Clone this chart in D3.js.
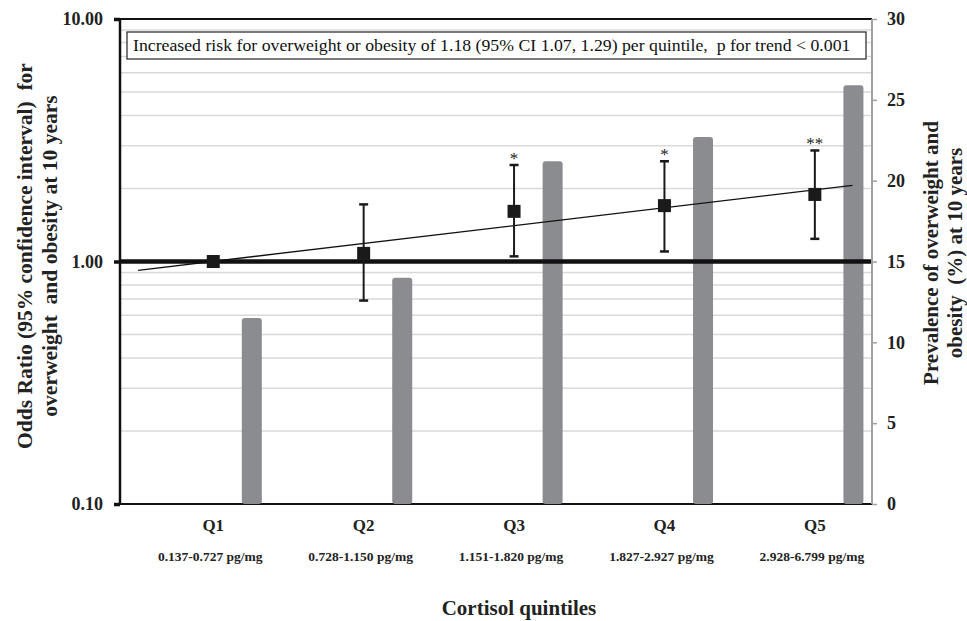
<!DOCTYPE html>
<html>
<head>
<meta charset="utf-8">
<script src="https://cdn.jsdelivr.net/npm/d3@7"></script>
<style>
  body { margin: 0; background: #fff; }
  text { font-family: "Liberation Serif", "Times New Roman", serif; white-space: pre; }
</style>
</head>
<body>
<div id="chart"></div>
<script>
// Chart values
const quintiles = ["Q1", "Q2", "Q3", "Q4", "Q5"];
const cortisolRanges = ["0.137-0.727 pg/mg", "0.728-1.150 pg/mg", "1.151-1.820 pg/mg", "1.827-2.927 pg/mg", "2.928-6.799 pg/mg"];
const oddsRatio = [1.00, 1.08, 1.61, 1.70, 1.89];
const ciLower = [null, 0.69, 1.05, 1.10, 1.24];
const ciUpper = [null, 1.72, 2.50, 2.59, 2.87];
const significance = ["", "", "*", "*", "**"];
const prevalence = [11.5, 14.0, 21.2, 22.7, 25.9];
const trendIndex = [-0.5, 4.25];
const trendOR = [0.92, 2.06];
const leftTicks = [0.1, 1, 10];
const rightTicks = [0, 5, 10, 15, 20, 25, 30];
const minorGrid = [0.2, 0.3, 0.4, 0.5, 0.6, 0.7, 0.8, 0.9, 2, 3, 4, 5, 6, 7, 8, 9];
const note = "Increased risk for overweight or obesity of 1.18 (95% CI 1.07, 1.29) per quintile,  p for trend < 0.001";

// Set up margins and container
const margin = { top: 19, right: 95, bottom: 117, left: 120 };
const width = 967 - margin.left - margin.right;
const height = 621 - margin.top - margin.bottom;

const svg = d3.select("#chart")
    .append("svg")
    .attr("width", 967)
    .attr("height", 621)
    .append("g")
    .attr("transform", `translate(${margin.left},${margin.top})`);

// Scales
const xScale = d3.scaleBand().domain(quintiles).range([0, width]).padding(0);
const bw = xScale.bandwidth();
const pointX = q => xScale(q) + bw * 0.62;
const barX = q => xScale(q) + bw * 0.81;
const xIdx = d3.scaleLinear().domain([0, 4]).range([pointX("Q1"), pointX("Q5")]);
const yLeft = d3.scaleLog().domain([0.1, 10]).range([height, 0]);
const yRight = d3.scaleLinear().domain([0, 30]).range([height, 0]);

// Gridlines (log minor)
svg.selectAll(".grid")
    .data(minorGrid)
    .enter().append("line")
    .attr("x1", 0).attr("x2", width)
    .attr("y1", d => yLeft(d)).attr("y2", d => yLeft(d))
    .attr("stroke", "#d9d9d9")
    .attr("stroke-width", 1.5);

// Bottom and top frame lines
svg.append("line").attr("x1", 0).attr("x2", width).attr("y1", height).attr("y2", height)
    .attr("stroke", "#111").attr("stroke-width", 2);
svg.append("line").attr("x1", 0).attr("x2", width).attr("y1", 0).attr("y2", 0)
    .attr("stroke", "#111").attr("stroke-width", 2);

// Prevalence bars (right axis)
svg.selectAll(".bar")
    .data(quintiles)
    .enter().append("rect")
    .attr("class", "bar")
    .attr("x", q => barX(q))
    .attr("y", (q, i) => yRight(prevalence[i]))
    .attr("width", bw * 0.133)
    .attr("height", (q, i) => height - yRight(prevalence[i]))
    .attr("rx", 3)
    .attr("fill", "#8b8c8f");

// Reference line at OR = 1
svg.append("line")
    .attr("x1", 0).attr("x2", width)
    .attr("y1", yLeft(1)).attr("y2", yLeft(1))
    .attr("stroke", "#111")
    .attr("stroke-width", 4.5);

// Trend line
svg.append("line")
    .attr("x1", xIdx(trendIndex[0])).attr("y1", yLeft(trendOR[0]))
    .attr("x2", xIdx(trendIndex[1])).attr("y2", yLeft(trendOR[1]))
    .attr("stroke", "#111")
    .attr("stroke-width", 1.3);

// Error bars
const ciData = quintiles.map((q, i) => ({ q, lo: ciLower[i], hi: ciUpper[i], sig: significance[i] }))
    .filter(d => d.lo !== null);
const err = svg.selectAll(".err").data(ciData).enter().append("g").attr("class", "err");
err.append("line")
    .attr("x1", d => pointX(d.q)).attr("x2", d => pointX(d.q))
    .attr("y1", d => yLeft(d.lo)).attr("y2", d => yLeft(d.hi))
    .attr("stroke", "#1a1a1a").attr("stroke-width", 2);
["lo", "hi"].forEach(k => {
    err.append("line")
        .attr("x1", d => pointX(d.q) - 4.5).attr("x2", d => pointX(d.q) + 4.5)
        .attr("y1", d => yLeft(d[k])).attr("y2", d => yLeft(d[k]))
        .attr("stroke", "#1a1a1a").attr("stroke-width", 2.5);
});
err.append("text")
    .attr("x", d => pointX(d.q))
    .attr("y", d => yLeft(d.hi) - 1)
    .attr("text-anchor", "middle")
    .style("font-size", "17px")
    .attr("fill", "#222")
    .text(d => d.sig);

// Odds ratio markers
svg.selectAll(".marker")
    .data(quintiles)
    .enter().append("rect")
    .attr("class", "marker")
    .attr("x", q => pointX(q) - 6.5)
    .attr("y", (q, i) => yLeft(oddsRatio[i]) - 6.5)
    .attr("width", 13).attr("height", 13)
    .attr("fill", "#1a1a1a");

// Annotation box
svg.append("rect")
    .attr("x", 7).attr("y", 13)
    .attr("width", 739).attr("height", 27)
    .attr("fill", "#fff")
    .attr("stroke", "#222")
    .attr("stroke-width", 1.2);
svg.append("text")
    .attr("x", 13).attr("y", 32)
    .style("font-size", "17.75px")
    .attr("fill", "#111")
    .text(note);

// Left axis
const leftAxis = svg.append("g")
    .call(d3.axisLeft(yLeft).tickValues(leftTicks).tickFormat(d3.format(".2f")).tickSize(6).tickPadding(11));
leftAxis.select(".domain").attr("stroke", "#111").attr("stroke-width", 2.5).attr("d", `M0,0V${height}`);
leftAxis.selectAll(".tick line").attr("stroke", "#111").attr("stroke-width", 3.5);
leftAxis.selectAll("text")
    .style("font-family", "Liberation Serif")
    .style("font-size", "18px")
    .style("font-weight", "bold")
    .attr("fill", "#222");

// Right axis
const rightAxis = svg.append("g")
    .attr("transform", `translate(${width},0)`)
    .call(d3.axisRight(yRight).tickValues(rightTicks).tickSize(5).tickPadding(10));
rightAxis.select(".domain").attr("stroke", "#a0a0a0").attr("stroke-width", 2).attr("d", `M0,0V${height}`);
rightAxis.selectAll(".tick line").attr("stroke", "#a0a0a0").attr("stroke-width", 1.5);
rightAxis.selectAll("text")
    .style("font-family", "Liberation Serif")
    .style("font-size", "18px")
    .style("font-weight", "bold")
    .attr("fill", "#222");

// Category labels
svg.selectAll(".qlabel")
    .data(quintiles)
    .enter().append("text")
    .attr("x", q => pointX(q))
    .attr("y", height + 27)
    .attr("text-anchor", "middle")
    .style("font-size", "17px")
    .style("font-weight", "bold")
    .attr("fill", "#222")
    .text(q => q);

svg.selectAll(".rlabel")
    .data(quintiles)
    .enter().append("text")
    .attr("x", q => pointX(q) - 3)
    .attr("y", height + 57)
    .attr("text-anchor", "middle")
    .style("font-size", "13.5px")
    .style("font-weight", "bold")
    .attr("fill", "#222")
    .text((q, i) => cortisolRanges[i]);

// X axis title
svg.append("text")
    .attr("x", 399)
    .attr("y", height + 111)
    .attr("text-anchor", "middle")
    .style("font-size", "21px")
    .style("font-weight", "bold")
    .attr("fill", "#222")
    .text("Cortisol quintiles");

// Left axis title (two lines)
[["Odds Ratio (95% confidence interval)  for", -88], ["overweight  and obesity at 10 years", -63]].forEach(([t, x]) => {
    svg.append("text")
        .attr("transform", `translate(${x},237) rotate(-90)`)
        .attr("text-anchor", "middle")
        .style("font-size", "21.5px")
        .style("font-weight", "bold")
        .attr("fill", "#222")
        .text(t);
});

// Right axis title (two lines)
[["Prevalence of overweight and", width + 66], ["obesity  (%) at 10 years", width + 90]].forEach(([t, x]) => {
    svg.append("text")
        .attr("transform", `translate(${x},234) rotate(-90)`)
        .attr("text-anchor", "middle")
        .style("font-size", "21px")
        .style("font-weight", "bold")
        .attr("fill", "#222")
        .text(t);
});
</script>
</body>
</html>
